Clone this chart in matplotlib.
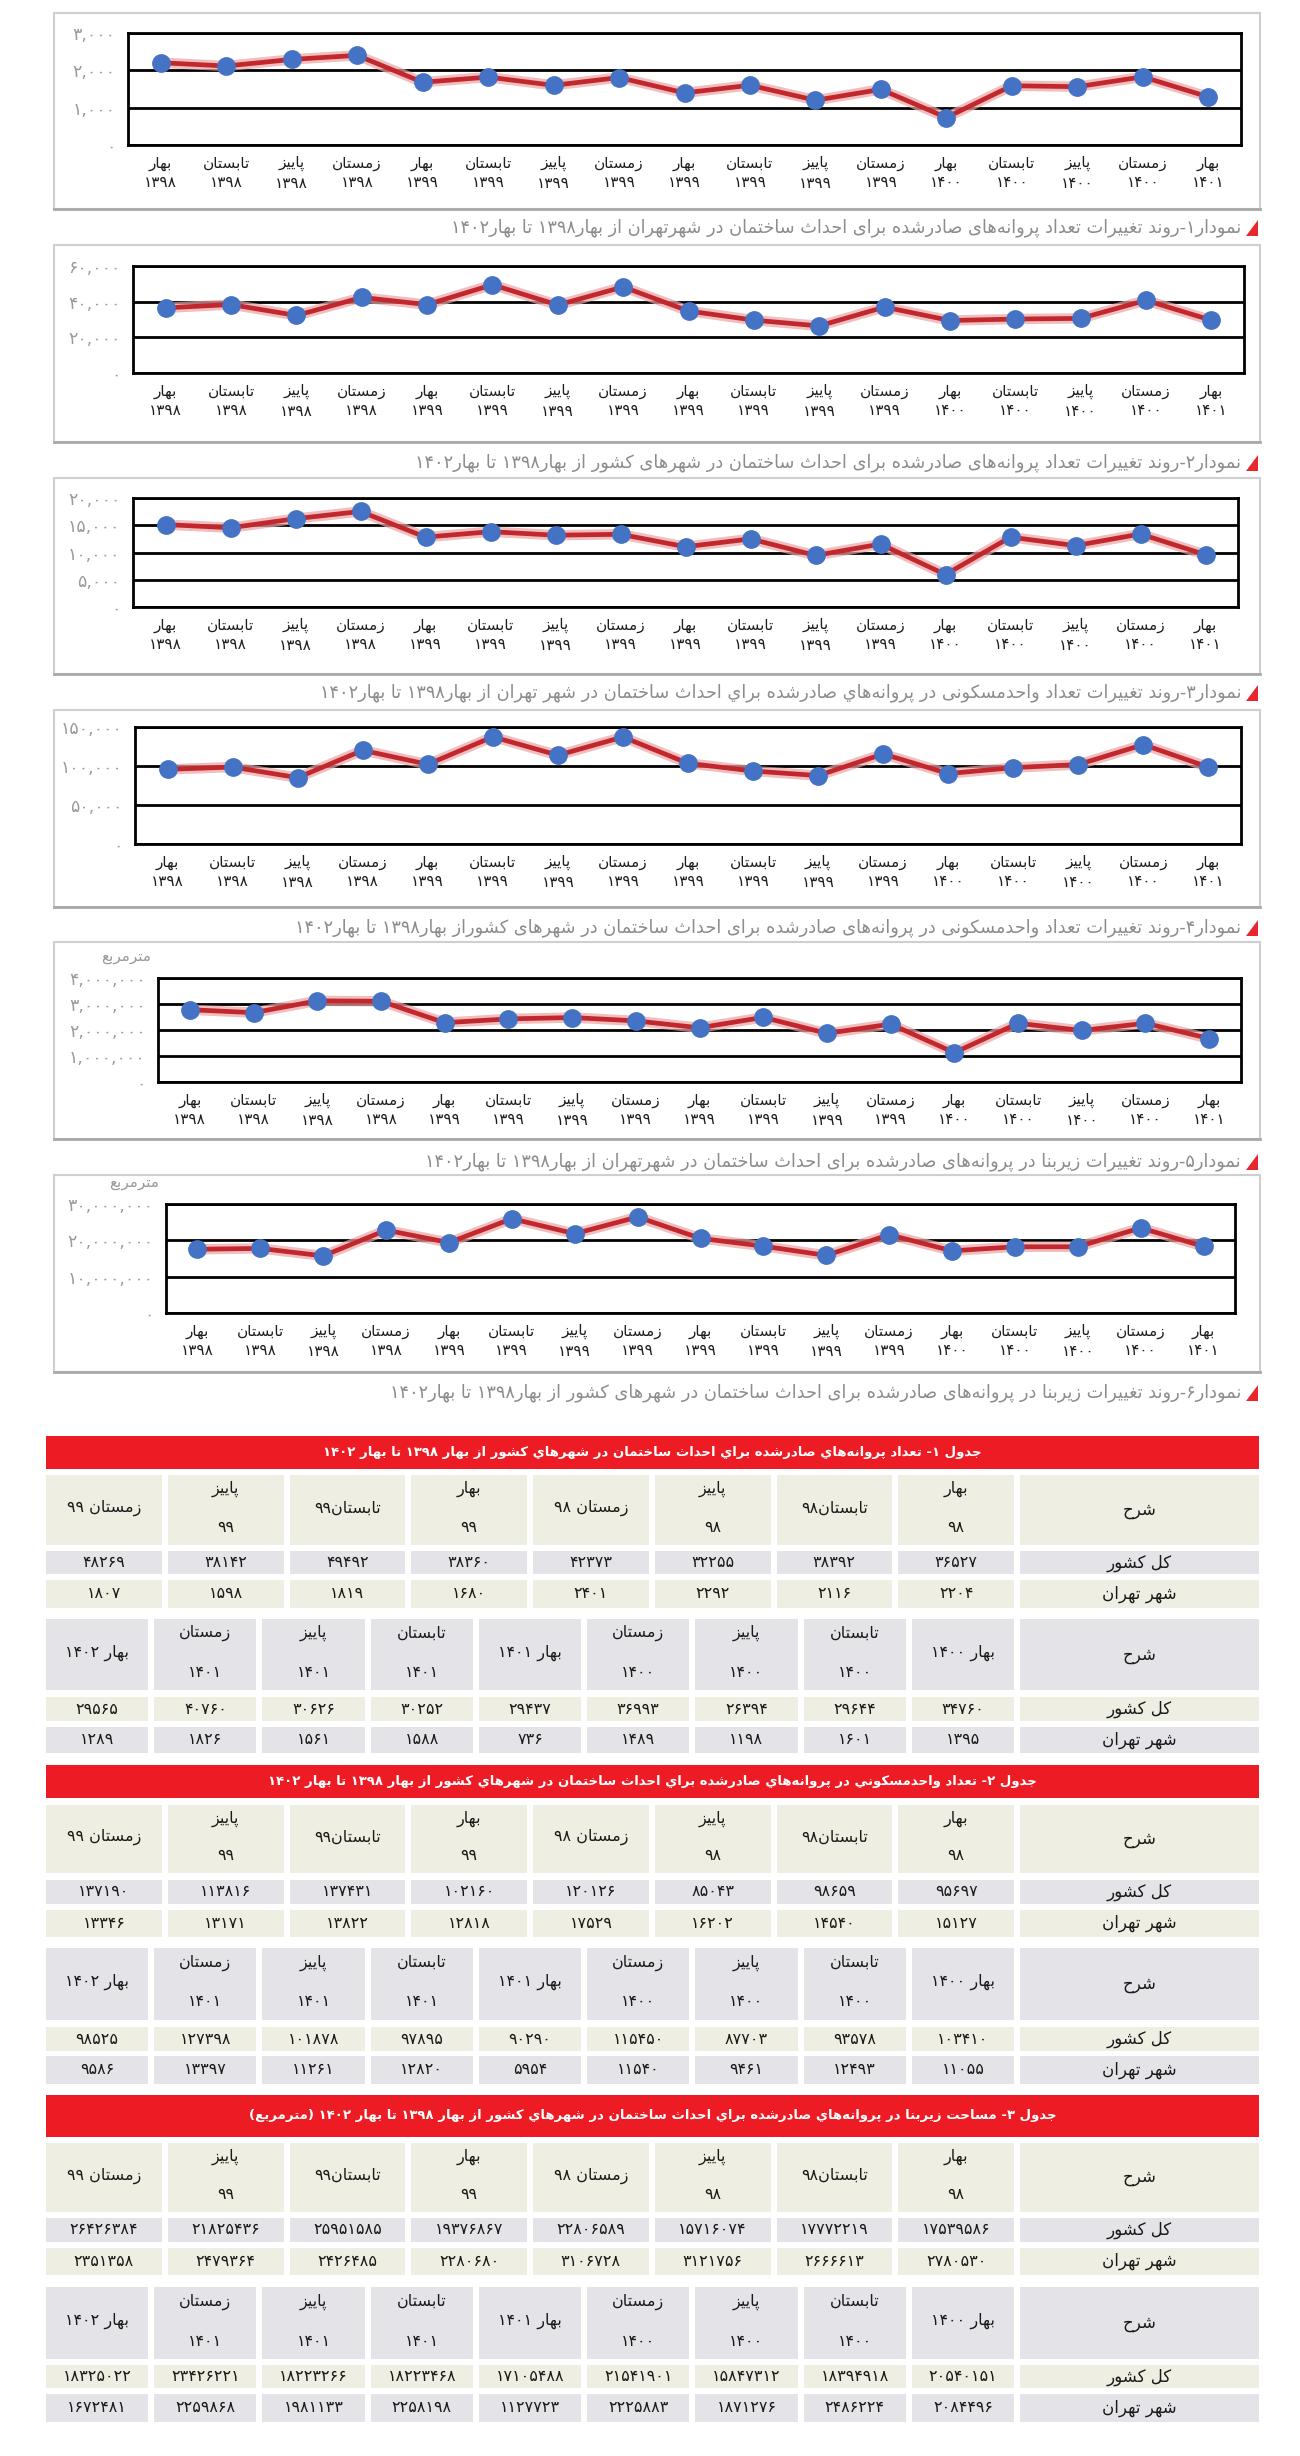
import matplotlib
matplotlib.use('Agg')
import matplotlib.pyplot as plt
from matplotlib.patches import Rectangle, Polygon

plt.rcParams['font.family'] = ['DejaVu Sans']

# ---------------- data ----------------
chart_seasons = ['بهار', 'تابستان', 'پاییز', 'زمستان', 'بهار', 'تابستان', 'پاییز', 'زمستان',
                 'بهار', 'تابستان', 'پاییز', 'زمستان', 'بهار', 'تابستان', 'پاییز', 'زمستان', 'بهار']
chart_years = ['۱۳۹۸', '۱۳۹۸', '۱۳۹۸', '۱۳۹۸', '۱۳۹۹', '۱۳۹۹', '۱۳۹۹', '۱۳۹۹',
               '۱۳۹۹', '۱۳۹۹', '۱۳۹۹', '۱۳۹۹', '۱۴۰۰', '۱۴۰۰', '۱۴۰۰', '۱۴۰۰', '۱۴۰۱']

permits_country = [36527, 38392, 32255, 42373, 38360, 49492, 38142, 48269,
                   34760, 29644, 26394, 36993, 29437, 30252, 30626, 40760, 29565]
permits_tehran = [2204, 2116, 2292, 2401, 1680, 1819, 1598, 1807,
                  1395, 1601, 1198, 1489, 736, 1588, 1561, 1826, 1289]
units_country = [95697, 98659, 85043, 120126, 102160, 137431, 113816, 137190,
                 103410, 93578, 87703, 115450, 90290, 97895, 101878, 127398, 98525]
units_tehran = [15127, 14540, 16202, 17529, 12818, 13822, 13171, 13346,
                11055, 12493, 9461, 11540, 5954, 12820, 11261, 13397, 9586]
area_country = [17539586, 17772219, 15716074, 22806589, 19376867, 25951585, 21825436, 26426384,
                20540151, 18394918, 15847312, 21541901, 17105488, 18223468, 18223266, 23426221, 18325022]
area_tehran = [2780530, 2666613, 3121756, 3106728, 2280680, 2426485, 2479364, 2351358,
               2084496, 2486224, 1871276, 2225883, 1127723, 2258198, 1981133, 2259868, 1672481]

y_max = [3000, 60000, 20000, 150000, 4000000, 30000000]
y_step = [1000, 20000, 5000, 50000, 1000000, 10000000]

chart_captions = [
    'نمودار۱-روند تغییرات تعداد پروانه‌های صادرشده برای احداث ساختمان در شهرتهران از بهار۱۳۹۸ تا بهار۱۴۰۲',
    'نمودار۲-روند تغییرات تعداد پروانه‌های صادرشده برای احداث ساختمان در شهرهای کشور از بهار۱۳۹۸ تا بهار۱۴۰۲',
    'نمودار۳-روند تغییرات تعداد واحدمسکونی در پروانه‌هاي صادرشده براي احداث ساختمان در شهر تهران از بهار۱۳۹۸ تا بهار۱۴۰۲',
    'نمودار۴-روند تغییرات تعداد واحدمسکونی در پروانه‌های صادرشده برای احداث ساختمان در شهرهای کشوراز بهار۱۳۹۸ تا بهار۱۴۰۲',
    'نمودار۵-روند تغییرات زیربنا در پروانه‌های صادرشده برای احداث ساختمان در شهرتهران از بهار۱۳۹۸ تا بهار۱۴۰۲',
    'نمودار۶-روند تغییرات زیربنا در پروانه‌های صادرشده برای احداث ساختمان در شهرهای کشور از بهار۱۳۹۸ تا بهار۱۴۰۲',
]
unit_label = 'مترمربع'

table_titles = [
    'جدول ۱- تعداد پروانه‌هاي صادرشده براي احداث ساختمان در شهرهاي كشور از بهار ۱۳۹۸ تا بهار ۱۴۰۲',
    'جدول ۲- تعداد واحدمسكوني در پروانه‌هاي صادرشده براي احداث ساختمان در شهرهاي كشور از بهار ۱۳۹۸ تا بهار ۱۴۰۲',
    'جدول ۳- مساحت زیربنا در پروانه‌هاي صادرشده براي احداث ساختمان در شهرهاي كشور از بهار ۱۳۹۸ تا بهار ۱۴۰۲ (مترمربع)',
]
row_head = 'شرح'
row_names = ['کل کشور', 'شهر تهران']
header_top = [('بهار', '۹۸'), ('تابستان۹۸',), ('پاییز', '۹۸'), ('زمستان ۹۸',),
              ('بهار', '۹۹'), ('تابستان۹۹',), ('پاییز', '۹۹'), ('زمستان ۹۹',)]
header_bottom = [('بهار ۱۴۰۰',), ('تابستان', '۱۴۰۰'), ('پاییز', '۱۴۰۰'), ('زمستان', '۱۴۰۰'),
                 ('بهار ۱۴۰۱',), ('تابستان', '۱۴۰۱'), ('پاییز', '۱۴۰۱'), ('زمستان', '۱۴۰۱'),
                 ('بهار ۱۴۰۲',)]

# ---------------- Persian shaping / bidi ----------------
FORMS = {
    '\u0627': ('\uFE8D', '\uFE8E', None, None),
    '\u0622': ('\uFE81', '\uFE82', None, None),
    '\u0628': ('\uFE8F', '\uFE90', '\uFE91', '\uFE92'),
    '\u067E': ('\uFB56', '\uFB57', '\uFB58', '\uFB59'),
    '\u062A': ('\uFE95', '\uFE96', '\uFE97', '\uFE98'),
    '\u062B': ('\uFE99', '\uFE9A', '\uFE9B', '\uFE9C'),
    '\u062C': ('\uFE9D', '\uFE9E', '\uFE9F', '\uFEA0'),
    '\u0686': ('\uFB7A', '\uFB7B', '\uFB7C', '\uFB7D'),
    '\u062D': ('\uFEA1', '\uFEA2', '\uFEA3', '\uFEA4'),
    '\u062E': ('\uFEA5', '\uFEA6', '\uFEA7', '\uFEA8'),
    '\u062F': ('\uFEA9', '\uFEAA', None, None),
    '\u0630': ('\uFEAB', '\uFEAC', None, None),
    '\u0631': ('\uFEAD', '\uFEAE', None, None),
    '\u0632': ('\uFEAF', '\uFEB0', None, None),
    '\u0698': ('\uFB8A', '\uFB8B', None, None),
    '\u0633': ('\uFEB1', '\uFEB2', '\uFEB3', '\uFEB4'),
    '\u0634': ('\uFEB5', '\uFEB6', '\uFEB7', '\uFEB8'),
    '\u0635': ('\uFEB9', '\uFEBA', '\uFEBB', '\uFEBC'),
    '\u0636': ('\uFEBD', '\uFEBE', '\uFEBF', '\uFEC0'),
    '\u0637': ('\uFEC1', '\uFEC2', '\uFEC3', '\uFEC4'),
    '\u0638': ('\uFEC5', '\uFEC6', '\uFEC7', '\uFEC8'),
    '\u0639': ('\uFEC9', '\uFECA', '\uFECB', '\uFECC'),
    '\u063A': ('\uFECD', '\uFECE', '\uFECF', '\uFED0'),
    '\u0641': ('\uFED1', '\uFED2', '\uFED3', '\uFED4'),
    '\u0642': ('\uFED5', '\uFED6', '\uFED7', '\uFED8'),
    '\u06A9': ('\uFB8E', '\uFB8F', '\uFB90', '\uFB91'),
    '\u0643': ('\uFED9', '\uFEDA', '\uFEDB', '\uFEDC'),
    '\u06AF': ('\uFB92', '\uFB93', '\uFB94', '\uFB95'),
    '\u0644': ('\uFEDD', '\uFEDE', '\uFEDF', '\uFEE0'),
    '\u0645': ('\uFEE1', '\uFEE2', '\uFEE3', '\uFEE4'),
    '\u0646': ('\uFEE5', '\uFEE6', '\uFEE7', '\uFEE8'),
    '\u0647': ('\uFEE9', '\uFEEA', '\uFEEB', '\uFEEC'),
    '\u0648': ('\uFEED', '\uFEEE', None, None),
    '\u06CC': ('\uFBFC', '\uFBFD', '\uFBFE', '\uFBFF'),
    '\u064A': ('\uFEF1', '\uFEF2', '\uFEF3', '\uFEF4'),
    '\u0626': ('\uFE89', '\uFE8A', '\uFE8B', '\uFE8C'),
}
DIGITS = set('0123456789۰۱۲۳۴۵۶۷۸۹')


def shape(s):
    out = []
    n = len(s)
    for i, c in enumerate(s):
        if c not in FORMS:
            out.append(c)
            continue
        iso, fin, ini, med = FORMS[c]
        prev = s[i - 1] if i > 0 else ''
        nxt = s[i + 1] if i + 1 < n else ''
        jp = prev in FORMS and FORMS[prev][2] is not None
        jn = ini is not None and nxt in FORMS
        if jp and jn:
            out.append(med)
        elif jp:
            out.append(fin)
        elif jn:
            out.append(ini)
        else:
            out.append(iso)
    return ''.join(out).replace('\u200c', '')


def fa(s):
    s = shape(s)
    tokens = []
    i = 0
    while i < len(s):
        if s[i] in DIGITS:
            j = i
            while j < len(s) and (s[j] in DIGITS or (s[j] in ',.' and j + 1 < len(s) and s[j + 1] in DIGITS)):
                j += 1
            tokens.append(s[i:j])
            i = j
        else:
            tokens.append(s[i])
            i += 1
    mirror = {'(': ')', ')': '('}
    return ''.join(mirror.get(t, t) for t in reversed(tokens))


DIG = str.maketrans('0123456789', '۰۱۲۳۴۵۶۷۸۹')


def fd(v):
    return str(v).translate(DIG)


# ---------------- figure ----------------
W, H = 1300, 2456
fig = plt.figure(figsize=(W / 100, H / 100), dpi=100)
fig.patch.set_facecolor('white')
bg = fig.add_axes([0, 0, 1, 1], zorder=0)
bg.set_xlim(0, W)
bg.set_ylim(H, 0)
bg.axis('off')


def rect(x0, y0, x1, y1):
    return [x0 / W, 1 - y1 / H, (x1 - x0) / W, (y1 - y0) / H]


series = [permits_tehran, permits_country, units_tehran, units_country, area_tehran, area_country]
plot_boxes = [(128, 33, 1241, 145), (133, 266, 1244, 373), (133, 498, 1238, 607),
              (135, 727, 1241, 844), (158, 978, 1241, 1082), (166, 1204, 1235, 1313)]
frame_boxes = [(13, 209), (245, 442), (478, 674), (710, 907), (942, 1139), (1175, 1372)]
caption_y = [228, 463, 693, 928, 1162, 1393]

LINE_RED = '#c1272d'
GLOW = '#eba3a3'
BLUE = '#4472c4'

for k in range(6):
    fy0, fy1 = frame_boxes[k]
    bg.add_patch(Rectangle((54, fy0), 1260 - 54, fy1 - fy0, facecolor='white',
                           edgecolor='#cfcfcf', lw=1.5, zorder=1))
    bg.plot([54, 1260], [fy1, fy1], color='#a8a8a8', lw=2, zorder=2)

    ax = fig.add_axes(rect(*plot_boxes[k]), zorder=3)
    ax.set_facecolor('none')
    x = list(range(len(series[k])))
    ax.plot(x, series[k], color=GLOW, lw=7.5, alpha=0.7, solid_capstyle='round', zorder=2)
    ax.plot(x, series[k], color=LINE_RED, lw=3.4, zorder=3)
    ax.plot(x, series[k], 'o', color=BLUE, ms=12.5, mec=BLUE, zorder=4)
    ax.set_xlim(-0.5, 16.5)
    ax.set_ylim(0, y_max[k])
    ticks = list(range(0, y_max[k] + 1, y_step[k]))
    ax.set_yticks(ticks)
    ax.set_yticklabels([fd(f'{t:,}') for t in ticks], color='#9a9a9a', fontsize=12.5)
    ax.yaxis.grid(True, color='black', lw=2)
    ax.set_axisbelow(True)
    ax.set_xticks(x)
    ax.set_xticklabels([fa(s) + '\n' + fa(yv) for s, yv in zip(chart_seasons, chart_years)],
                       fontsize=11, color='#1e1e1e', linespacing=1.35)
    ax.tick_params(axis='both', length=0)
    ax.tick_params(axis='y', pad=9)
    ax.tick_params(axis='x', pad=8)
    for sp in ax.spines.values():
        sp.set_color('black')
        sp.set_linewidth(2)

    if k >= 4:
        bg.text(plot_boxes[k][0] - 32, plot_boxes[k][1] - 21, fa(unit_label), ha='center',
                va='center', color='#9a9a9a', fontsize=11, zorder=5)

    cy = caption_y[k]
    bg.text(1241, cy, fa(chart_captions[k]), ha='right', va='center', color='#8c8c8c',
            fontsize=12.8, zorder=5)
    bg.add_patch(Polygon([[1246, cy + 8], [1258, cy + 8], [1258, cy - 8]], closed=True,
                         facecolor='#e8262d', edgecolor='none', zorder=5))

# ---------------- tables ----------------
CREAM = '#efeee3'
GRAY = '#e4e4e8'
RED = '#ed1c24'

table_country = [permits_country, units_country, area_country]
table_tehran = [permits_tehran, units_tehran, area_tehran]

table_rows = [
    dict(title=(1436, 1469), h1=(1475, 1545), r1=(1551, 1574), r2=(1580, 1608),
         h2=(1619, 1690), r3=(1697, 1721), r4=(1727, 1753)),
    dict(title=(1765, 1798), h1=(1805, 1873), r1=(1880, 1904), r2=(1910, 1937),
         h2=(1948, 2020), r3=(2027, 2051), r4=(2056, 2084)),
    dict(title=(2095, 2137), h1=(2143, 2212), r1=(2218, 2242), r2=(2248, 2275),
         h2=(2287, 2359), r3=(2365, 2388), r4=(2394, 2422)),
]

TX0, TX1 = 46, 1259
HEAD_X0 = 1020
GAP = 6


def cells(ncol):
    w = (HEAD_X0 - GAP - TX0 - (ncol - 1) * GAP) / ncol
    res = []
    for i in range(ncol):
        x1 = HEAD_X0 - GAP - i * (w + GAP)
        res.append((x1 - w, x1))
    return res


def cell(x0, x1, y0, y1, color):
    bg.add_patch(Rectangle((x0, y0), x1 - x0, y1 - y0, facecolor=color, edgecolor='none', zorder=1))


def header_text(x0, x1, y0, y1, parts):
    xc = (x0 + x1) / 2
    h = y1 - y0
    if len(parts) == 1:
        bg.text(xc, y0 + 0.47 * h, fa(parts[0]), ha='center', va='center', fontsize=11.5,
                color='#1a1a1a', zorder=3)
    else:
        bg.text(xc, y0 + 0.2 * h, fa(parts[0]), ha='center', va='center', fontsize=11.5,
                color='#1a1a1a', zorder=3)
        bg.text(xc, y0 + 0.75 * h, fa(parts[1]), ha='center', va='center', fontsize=11.5,
                color='#1a1a1a', zorder=3)


for t in range(3):
    d = table_rows[t]
    ty0, ty1 = d['title']
    cell(TX0, TX1, ty0, ty1, RED)
    bg.text((TX0 + TX1) / 2, (ty0 + ty1) / 2, fa(table_titles[t]), ha='center', va='center',
            color='white', fontsize=9.5, fontweight='bold', zorder=3)

    for part, (hk, ak, bk, hdrs, vals0) in enumerate([
            ('h1', 'r1', 'r2', header_top, 0),
            ('h2', 'r3', 'r4', header_bottom, 8)]):
        colors = (CREAM, GRAY, CREAM) if part == 0 else (GRAY, CREAM, GRAY)
        hy0, hy1 = d[hk]
        ay0, ay1 = d[ak]
        by0, by1 = d[bk]
        cell(HEAD_X0, TX1, hy0, hy1, colors[0])
        cell(HEAD_X0, TX1, ay0, ay1, colors[1])
        cell(HEAD_X0, TX1, by0, by1, colors[2])
        hx = (HEAD_X0 + TX1) / 2
        bg.text(hx, (hy0 + hy1) / 2, fa(row_head), ha='center', va='center', fontsize=12,
                color='#1a1a1a', zorder=3)
        bg.text(hx, (ay0 + ay1) / 2, fa(row_names[0]), ha='center', va='center', fontsize=12,
                color='#1a1a1a', zorder=3)
        bg.text(hx, (by0 + by1) / 2, fa(row_names[1]), ha='center', va='center', fontsize=12,
                color='#1a1a1a', zorder=3)
        cs = cells(len(hdrs))
        for i, (x0, x1) in enumerate(cs):
            cell(x0, x1, hy0, hy1, colors[0])
            cell(x0, x1, ay0, ay1, colors[1])
            cell(x0, x1, by0, by1, colors[2])
            header_text(x0, x1, hy0, hy1, hdrs[i])
            xc = (x0 + x1) / 2
            bg.text(xc, (ay0 + ay1) / 2, fd(table_country[t][vals0 + i]), ha='center',
                    va='center', fontsize=11.5, color='#1a1a1a', zorder=3)
            bg.text(xc, (by0 + by1) / 2, fd(table_tehran[t][vals0 + i]), ha='center',
                    va='center', fontsize=11.5, color='#1a1a1a', zorder=3)

fig.savefig('out.png', dpi=100, facecolor='white')
